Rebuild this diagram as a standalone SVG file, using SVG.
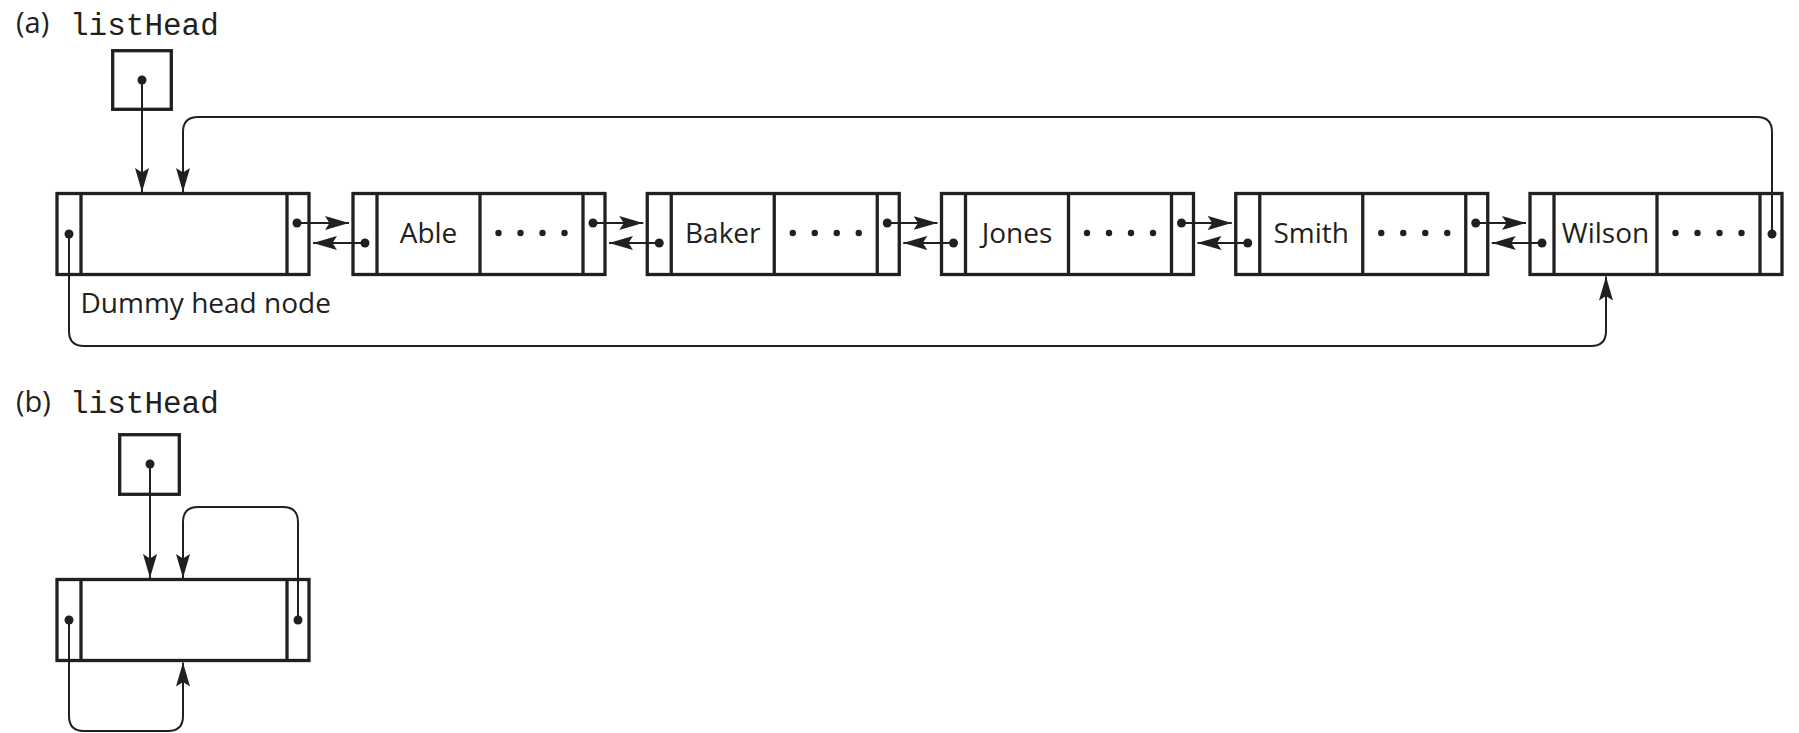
<svg xmlns="http://www.w3.org/2000/svg" width="1799" height="733" viewBox="0 0 1799 733">
  <style>
    .box { fill: none; stroke: #231f20; stroke-width: 3.3; }
    .div { stroke: #231f20; stroke-width: 3.3; }
    .link { fill: none; stroke: #231f20; stroke-width: 2; marker-end: url(#head); }
    .dot { fill: #231f20; }
    .lbl { font-family: "Open Sans", "Noto Sans", sans-serif; font-size: 28px; fill: #231f20; }
    .tag { font-family: "Open Sans", "Noto Sans", sans-serif; font-size: 29px; fill: #231f20; }
    .code { font-family: "Liberation Mono", "DejaVu Sans Mono", monospace; font-size: 31px; fill: #231f20; }
  </style>
  <defs>
    <marker id="head" viewBox="0 0 24 15" refX="24" refY="7.5" markerWidth="24" markerHeight="15" markerUnits="userSpaceOnUse" orient="auto">
      <path d="M0,0.5 L24,7.5 L0,14.5 L4.5,7.5 z" fill="#231f20"/>
    </marker>
    <!-- doubly linked node: prev cell | data | more fields | next cell -->
    <g id="dnode">
      <rect class="box" x="0" y="0" width="252" height="81"/>
      <line class="div" x1="24" y1="0" x2="24" y2="81"/>
      <line class="div" x1="127" y1="0" x2="127" y2="81"/>
      <line class="div" x1="230" y1="0" x2="230" y2="81"/>
      <circle class="dot" cx="145.5" cy="39.5" r="3.2"/>
      <circle class="dot" cx="167.5" cy="39.5" r="3.2"/>
      <circle class="dot" cx="189.5" cy="39.5" r="3.2"/>
      <circle class="dot" cx="211.5" cy="39.5" r="3.2"/>
    </g>
    <!-- dummy head node: prev cell | empty | next cell -->
    <g id="hnode">
      <rect class="box" x="0" y="0" width="252" height="81"/>
      <line class="div" x1="24" y1="0" x2="24" y2="81"/>
      <line class="div" x1="230" y1="0" x2="230" y2="81"/>
    </g>
  </defs>

  <rect width="1799" height="733" fill="#ffffff"/>

  <!-- (a) list with five items -->
  <text class="tag" x="16" y="33">(a)</text>
  <text class="code" x="70" y="35">listHead</text>

  <g id="a-listHead">
    <rect class="box" x="112.7" y="50.7" width="58.6" height="58.6"/>
    <circle class="dot" cx="142" cy="80" r="4.5"/>
  </g>

  <g id="a-dummy">
    <use href="#hnode" x="57" y="193.5"/>
    <circle class="dot" cx="69" cy="234" r="4.5"/>
    <circle class="dot" cx="297" cy="223" r="4.5"/>
    <text class="lbl" x="80.5" y="313">Dummy head node</text>
  </g>

  <g id="node-able">
    <use href="#dnode" x="353" y="193.5"/>
    <text class="lbl" x="428.5" y="243" text-anchor="middle">Able</text>
    <circle class="dot" cx="365" cy="243" r="4.5"/>
    <circle class="dot" cx="593" cy="223" r="4.5"/>
  </g>
  <g id="node-baker">
    <use href="#dnode" x="647.25" y="193.5"/>
    <text class="lbl" x="722.75" y="243" text-anchor="middle">Baker</text>
    <circle class="dot" cx="659.25" cy="243" r="4.5"/>
    <circle class="dot" cx="887.25" cy="223" r="4.5"/>
  </g>
  <g id="node-jones">
    <use href="#dnode" x="941.5" y="193.5"/>
    <text class="lbl" x="1017" y="243" text-anchor="middle">Jones</text>
    <circle class="dot" cx="953.5" cy="243" r="4.5"/>
    <circle class="dot" cx="1181.5" cy="223" r="4.5"/>
  </g>
  <g id="node-smith">
    <use href="#dnode" x="1235.75" y="193.5"/>
    <text class="lbl" x="1311.25" y="243" text-anchor="middle">Smith</text>
    <circle class="dot" cx="1247.75" cy="243" r="4.5"/>
    <circle class="dot" cx="1475.75" cy="223" r="4.5"/>
  </g>
  <g id="node-wilson">
    <use href="#dnode" x="1530" y="193.5"/>
    <text class="lbl" x="1605.5" y="243" text-anchor="middle">Wilson</text>
    <circle class="dot" cx="1542" cy="243" r="4.5"/>
    <circle class="dot" cx="1772" cy="234" r="4.5"/>
  </g>

  <g id="a-links">
    <path class="link" d="M142,80 V192"/>
    <!-- next pointers -->
    <path class="link" d="M297,223 H349"/>
    <path class="link" d="M593,223 H643.25"/>
    <path class="link" d="M887.25,223 H937.5"/>
    <path class="link" d="M1181.5,223 H1231.75"/>
    <path class="link" d="M1475.75,223 H1526"/>
    <!-- prev pointers -->
    <path class="link" d="M365,243 H313"/>
    <path class="link" d="M659.25,243 H609"/>
    <path class="link" d="M953.5,243 H903.25"/>
    <path class="link" d="M1247.75,243 H1197.5"/>
    <path class="link" d="M1542,243 H1491.75"/>
    <!-- last node wraps around to the dummy head -->
    <path class="link" d="M1772,234 V132 Q1772,117 1757,117 H198 Q183,117 183,132 V192"/>
    <!-- dummy head's prev points to the last node -->
    <path class="link" d="M69,234 V331 Q69,346 84,346 H1591 Q1606,346 1606,331 V276.5"/>
  </g>

  <!-- (b) empty list -->
  <text class="tag" x="16" y="412">(b)</text>
  <text class="code" x="70" y="413">listHead</text>

  <g id="b-listHead">
    <rect class="box" x="119.7" y="434.7" width="59.6" height="59.6"/>
    <circle class="dot" cx="150" cy="464" r="4.5"/>
  </g>

  <g id="b-dummy">
    <use href="#hnode" x="57" y="579.5"/>
    <circle class="dot" cx="69" cy="620" r="4.5"/>
    <circle class="dot" cx="298" cy="620" r="4.5"/>
  </g>

  <g id="b-links">
    <path class="link" d="M150,464 V578"/>
    <path class="link" d="M298,620 V522 Q298,507 283,507 H198 Q183,507 183,522 V578"/>
    <path class="link" d="M69,620 V716 Q69,731 84,731 H168 Q183,731 183,716 V662.5"/>
  </g>
</svg>
